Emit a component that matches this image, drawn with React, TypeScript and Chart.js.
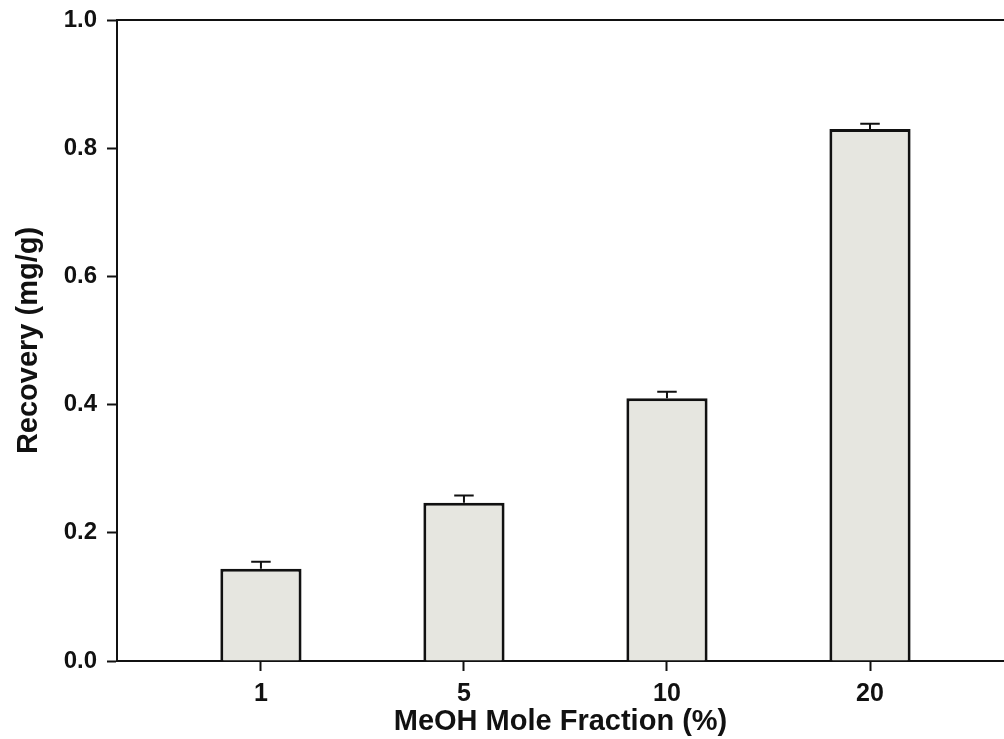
import React, { useEffect, useRef } from "react";
import { Chart, registerables } from "chart.js";

Chart.register(...registerables);

const categories = ["1", "5", "10", "20"];
const recovery = [0.144, 0.247, 0.41, 0.83];
const recoveryErr = [0.011, 0.011, 0.01, 0.008];
const yTicks = [0, 0.2, 0.4, 0.6, 0.8, 1.0];

const FONT = "'Liberation Sans', Arial, Helvetica, sans-serif";
const INK = "#111111";

const errorBarPlugin = {
  id: "errorBars",
  afterDatasetsDraw(chart: any) {
    const meta = chart.getDatasetMeta(0);
    const yScale = chart.scales.y;
    const ctx = chart.ctx;
    ctx.save();
    ctx.strokeStyle = INK;
    ctx.lineWidth = 2;
    meta.data.forEach((el: any, i: number) => {
      const top = yScale.getPixelForValue(recovery[i] + recoveryErr[i]);
      const capHalf = el.width * 0.12;
      ctx.beginPath();
      ctx.moveTo(el.x, el.y);
      ctx.lineTo(el.x, top);
      ctx.moveTo(el.x - capHalf, top);
      ctx.lineTo(el.x + capHalf, top);
      ctx.stroke();
    });
    ctx.restore();
  },
};

const frameTopPlugin = {
  id: "frameTop",
  afterDraw(chart: any) {
    const { ctx, chartArea } = chart;
    ctx.save();
    ctx.strokeStyle = INK;
    ctx.lineWidth = 2;
    ctx.beginPath();
    ctx.moveTo(chartArea.left, chartArea.top);
    ctx.lineTo(chartArea.right, chartArea.top);
    ctx.stroke();
    ctx.restore();
  },
};

export default function App() {
  const ref = useRef<HTMLCanvasElement | null>(null);

  useEffect(() => {
    if (!ref.current) return;
    const chart = new Chart(ref.current, {
      type: "bar",
      data: {
        datasets: [
          {
            label: "Recovery",
            data: categories.map((_, i) => ({ x: i, y: recovery[i] })),
            backgroundColor: "#e6e6e0",
            borderColor: INK,
            borderWidth: 3,
            borderSkipped: "bottom",
            barPercentage: 0.4,
            categoryPercentage: 1,
          },
        ],
      },
      options: {
        responsive: false,
        animation: false,
        layout: { padding: { top: 20, right: 0, left: 0, bottom: 0 } },
        plugins: {
          legend: { display: false },
          tooltip: { enabled: false },
        },
        scales: {
          x: {
            type: "linear",
            offset: false,
            min: -0.709,
            max: 3.66,
            afterBuildTicks: (axis: any) => {
              axis.ticks = categories.map((_, i) => ({ value: i }));
            },
            afterFit: (scale: any) => {
              scale.height = 78;
              scale.paddingLeft = 0;
              scale.paddingRight = 0;
            },
            ticks: {
              callback: (v: any) => categories[v] ?? "",
              color: INK,
              font: { family: FONT, size: 25, weight: "bold" },
              padding: 8,
              maxRotation: 0,
            },
            grid: {
              offset: false,
              drawOnChartArea: false,
              drawTicks: true,
              tickLength: 10,
              tickColor: INK,
              tickWidth: 2,
            },
            border: { display: true, color: INK, width: 2 },
            title: {
              display: true,
              text: "MeOH Mole Fraction (%)",
              color: INK,
              font: { family: FONT, size: 29, weight: "bold" },
              padding: { top: 0, bottom: 0 },
            },
          },
          y: {
            type: "linear",
            min: 0,
            max: 1,
            afterBuildTicks: (axis: any) => {
              axis.ticks = yTicks.map((v) => ({ value: v }));
            },
            afterFit: (scale: any) => {
              scale.width = 117;
              scale.paddingTop = 0;
              scale.paddingBottom = 0;
            },
            ticks: {
              callback: (v: any) => Number(v).toFixed(1),
              color: INK,
              font: { family: FONT, size: 24, weight: "bold" },
              padding: 10,
            },
            grid: {
              drawOnChartArea: false,
              drawTicks: true,
              tickLength: 10,
              tickColor: INK,
              tickWidth: 2,
            },
            border: { display: true, color: INK, width: 2 },
            title: {
              display: true,
              text: "Recovery (mg/g)",
              color: INK,
              font: { family: FONT, size: 29, weight: "bold" },
              padding: { top: 12, bottom: 0 },
            },
          },
        },
      },
      plugins: [errorBarPlugin, frameTopPlugin],
    } as any);
    return () => chart.destroy();
  }, []);

  return (
    <div
      style={{
        position: "fixed",
        left: 0,
        top: 0,
        width: 1004,
        height: 739,
        background: "#ffffff",
      }}
    >
      <canvas ref={ref} width={1004} height={739} />
    </div>
  );
}
